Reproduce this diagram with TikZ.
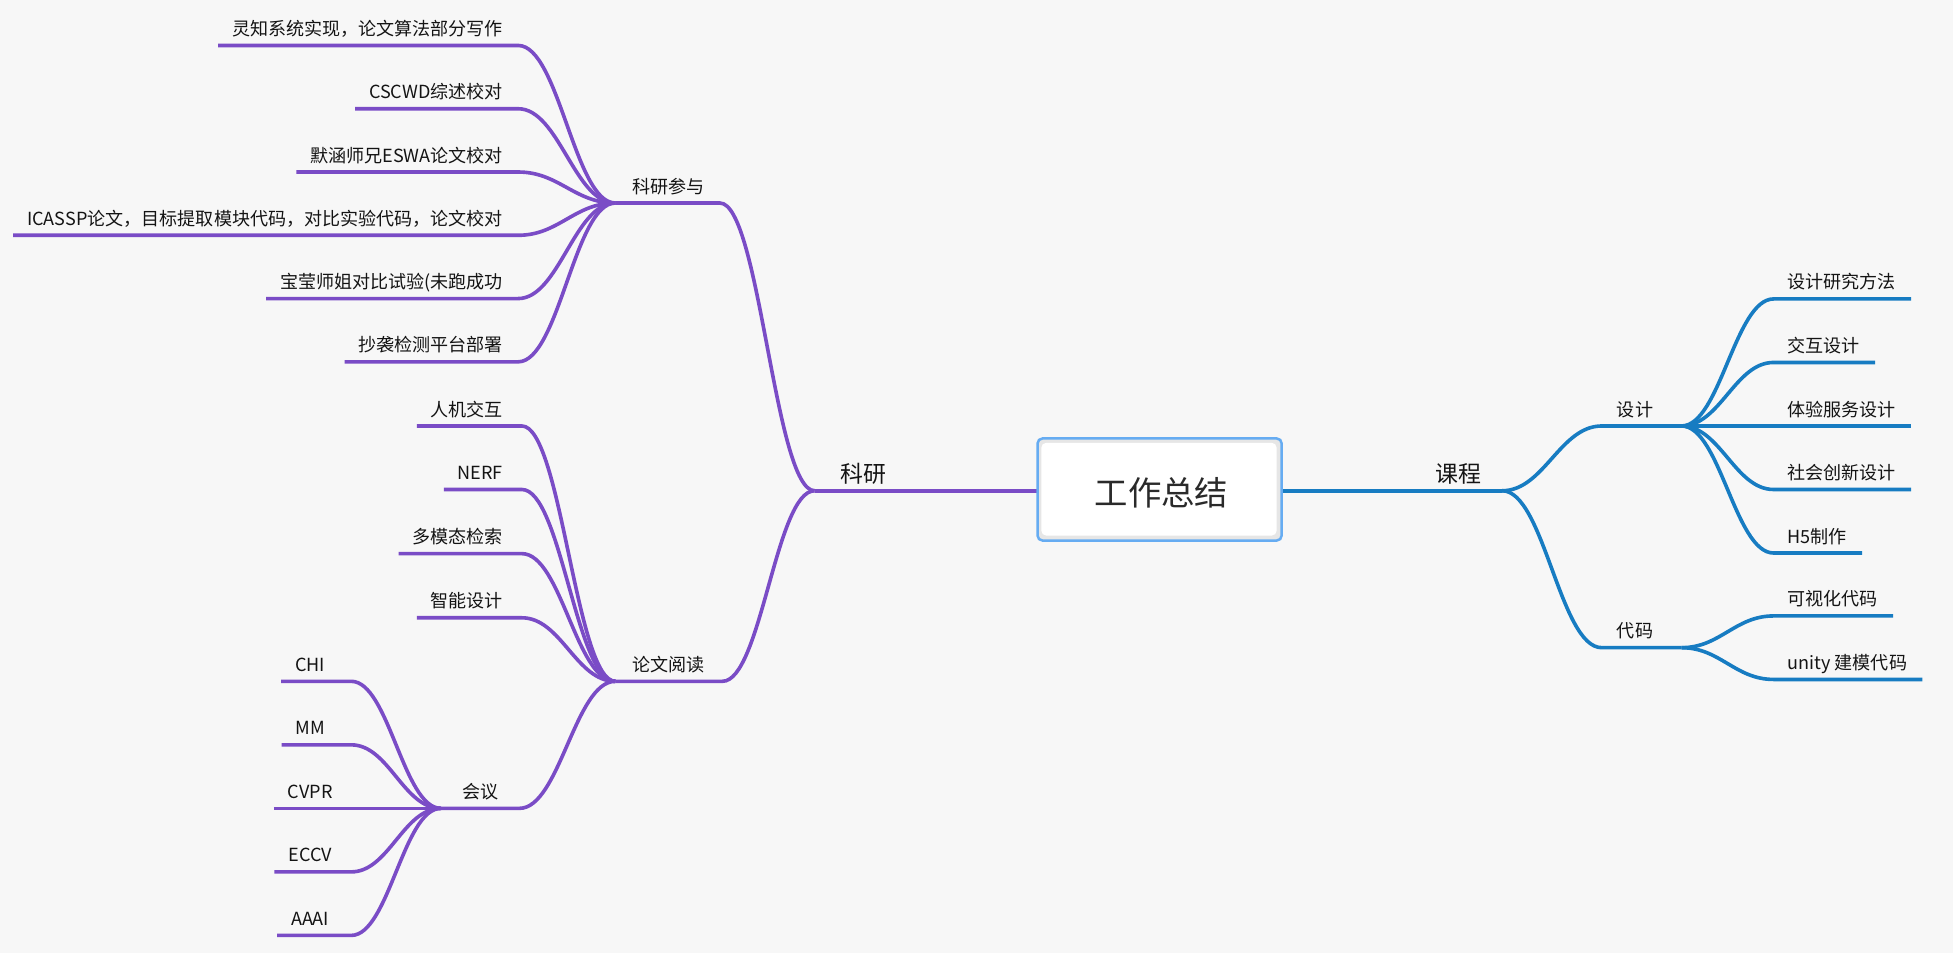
\documentclass[tikz,border=0pt]{standalone}
\usepackage{fontspec}
\setmainfont{Noto Sans CJK SC}
\usetikzlibrary{calc}
\definecolor{pur}{HTML}{7A4CC6}
\definecolor{blu}{HTML}{177CC2}
\definecolor{boxb}{HTML}{66ACF2}
\definecolor{bgc}{HTML}{F7F7F7}
\definecolor{txt}{HTML}{141414}
\definecolor{rtxt}{HTML}{2A2A2A}
\definecolor{shd}{HTML}{E6E6E6}
% curve from a free end through a curve start to a hub on the right
\newcommand\brL[4]{\draw[#1] let \p1=(#3),\p2=(#4),\n1={0.42*(\x2-\x1)} in (#2) -- (\p1) .. controls +(\n1,0) and +(-\n1,0) .. (\p2);}
% curve from a hub on the left to a curve end, then on to a free end
\newcommand\brR[4]{\draw[#1] let \p1=(#2),\p2=(#3),\n1={0.42*(\x2-\x1)} in (\p1) .. controls +(\n1,0) and +(-\n1,0) .. (\p2) -- (#4);}
% left leaf, text right aligned
\newcommand\leafL[5]{%
  \node[lab,anchor=base east] (#1) at (404,#3-8) {#2};
  \coordinate (#1r) at (#4,#3);
  \path (#1.west |- #1r) ++(-11,0) coordinate (#1l);
  \brL{pl}{#1l}{#1r}{#5}}
% left leaf, text centred
\newcommand\leafC[4]{%
  \node[lab,anchor=base] (#1) at (249,#3-8) {#2};
  \coordinate (#1r) at (282,#3);
  \path (#1.west |- #1r) ++(-11,0) coordinate (#1l);
  \brL{pl}{#1l}{#1r}{#4}}
% right leaf
\newcommand\leafR[4]{%
  \node[lab,anchor=base west] (#1) at (1435,#3-8) {#2};
  \coordinate (#1l) at (1424,#3);
  \path (#1.east |- #1l) ++(12,0) coordinate (#1r);
  \brR{bl}{#4}{#1l}{#1r}}
\begin{document}
\begin{tikzpicture}[x=1pt,y=-1pt,
  pl/.style={draw=pur,line width=2.9pt},
  bl/.style={draw=blu,line width=2.9pt},
  lab/.style={inner sep=0pt,text=txt,font=\fontsize{14.5}{17}\selectfont},
  big/.style={inner sep=0pt,text=txt,font=\fontsize{18.4}{22}\selectfont},
]
\fill[bgc] (0,0) rectangle (1568,765.13);
\useasboundingbox (0,0) rectangle (1568,765.13);

% ---- main hubs ----
\coordinate (rootW) at (833,394);
\coordinate (rootE) at (1029,394);
\coordinate (kyH) at (654,394);
\coordinate (kcH) at (1206,394);

\coordinate (kycH) at (494,163);
\coordinate (kycE) at (578,163);
\coordinate (lwH) at (494,547);
\coordinate (lwE) at (580,547);
\coordinate (hyH) at (354,649);
\coordinate (hyE) at (417,649);

\coordinate (sjL) at (1286,342);
\coordinate (sjH) at (1350,342);
\coordinate (dmL) at (1286,520);
\coordinate (dmH) at (1350,520);

% ---- left side ----
\draw[pl] (kyH) -- (rootW);
\node[big,anchor=base] (ky) at (693.5,387) {科研};
\brL{pl}{kycH}{kycE}{kyH}
\node[lab,anchor=base] (kyc) at (537,155) {科研参与};
\brL{pl}{lwH}{lwE}{kyH}
\node[lab,anchor=base] (lw) at (537,539) {论文阅读};
\brL{pl}{hyH}{hyE}{lwH}
\node[lab,anchor=base] (hy) at (386,641) {会议};

\leafL{a1}{灵知系统实现，论文算法部分写作}{36.5}{416}{kycH}
\leafL{a2}{CSCWD综述校对}{87.3}{416}{kycH}
\leafL{a3}{默涵师兄ESWA论文校对}{138.1}{416}{kycH}
\leafL{a4}{ICASSP论文，目标提取模块代码，对比实验代码，论文校对}{188.9}{416}{kycH}
\leafL{a5}{宝莹师姐对比试验(未跑成功}{239.7}{416}{kycH}
\leafL{a6}{抄袭检测平台部署}{290.5}{416}{kycH}

\leafL{b1}{人机交互}{342}{419}{lwH}
\leafL{b2}{NERF}{393}{419}{lwH}
\leafL{b3}{多模态检索}{444.5}{419}{lwH}
\leafL{b4}{智能设计}{496}{419}{lwH}

\leafC{c1}{CHI}{547}{hyH}
\leafC{c2}{MM}{598}{hyH}
\leafC{c3}{CVPR}{649}{hyH}
\leafC{c4}{ECCV}{700}{hyH}
\leafC{c5}{AAAI}{751}{hyH}

% ---- right side ----
\draw[bl] (rootE) -- (kcH);
\node[big,anchor=base] (kc) at (1171,387) {课程};
\brR{bl}{kcH}{sjL}{sjH}
\node[lab,anchor=base west] (sj) at (1298,334) {设计};
\brR{bl}{kcH}{dmL}{dmH}
\node[lab,anchor=base west] (dm) at (1298,512) {代码};

\leafR{d1}{设计研究方法}{240}{sjH}
\leafR{d2}{交互设计}{291}{sjH}
\leafR{d3}{体验服务设计}{342}{sjH}
\leafR{d4}{社会创新设计}{393}{sjH}
\leafR{d5}{H5制作}{444}{sjH}

\leafR{e1}{可视化代码}{494.5}{dmH}
\leafR{e2}{unity 建模代码}{545.5}{dmH}

% ---- central topic ----
\fill[shd,rounded corners=4pt] (833,352) rectangle (1029,434);
\fill[white,rounded corners=4pt] (836,355.5) rectangle (1025,430);
\node[draw=boxb,line width=2pt,rounded corners=4pt,minimum width=196pt,minimum height=82pt,inner sep=0pt] (root) at (931,393) {};
\node[inner sep=0pt,text=rtxt,font=\fontsize{26.8}{32}\selectfont] (roottxt) at (932.5,396) {工作总结};
\end{tikzpicture}
\end{document}
